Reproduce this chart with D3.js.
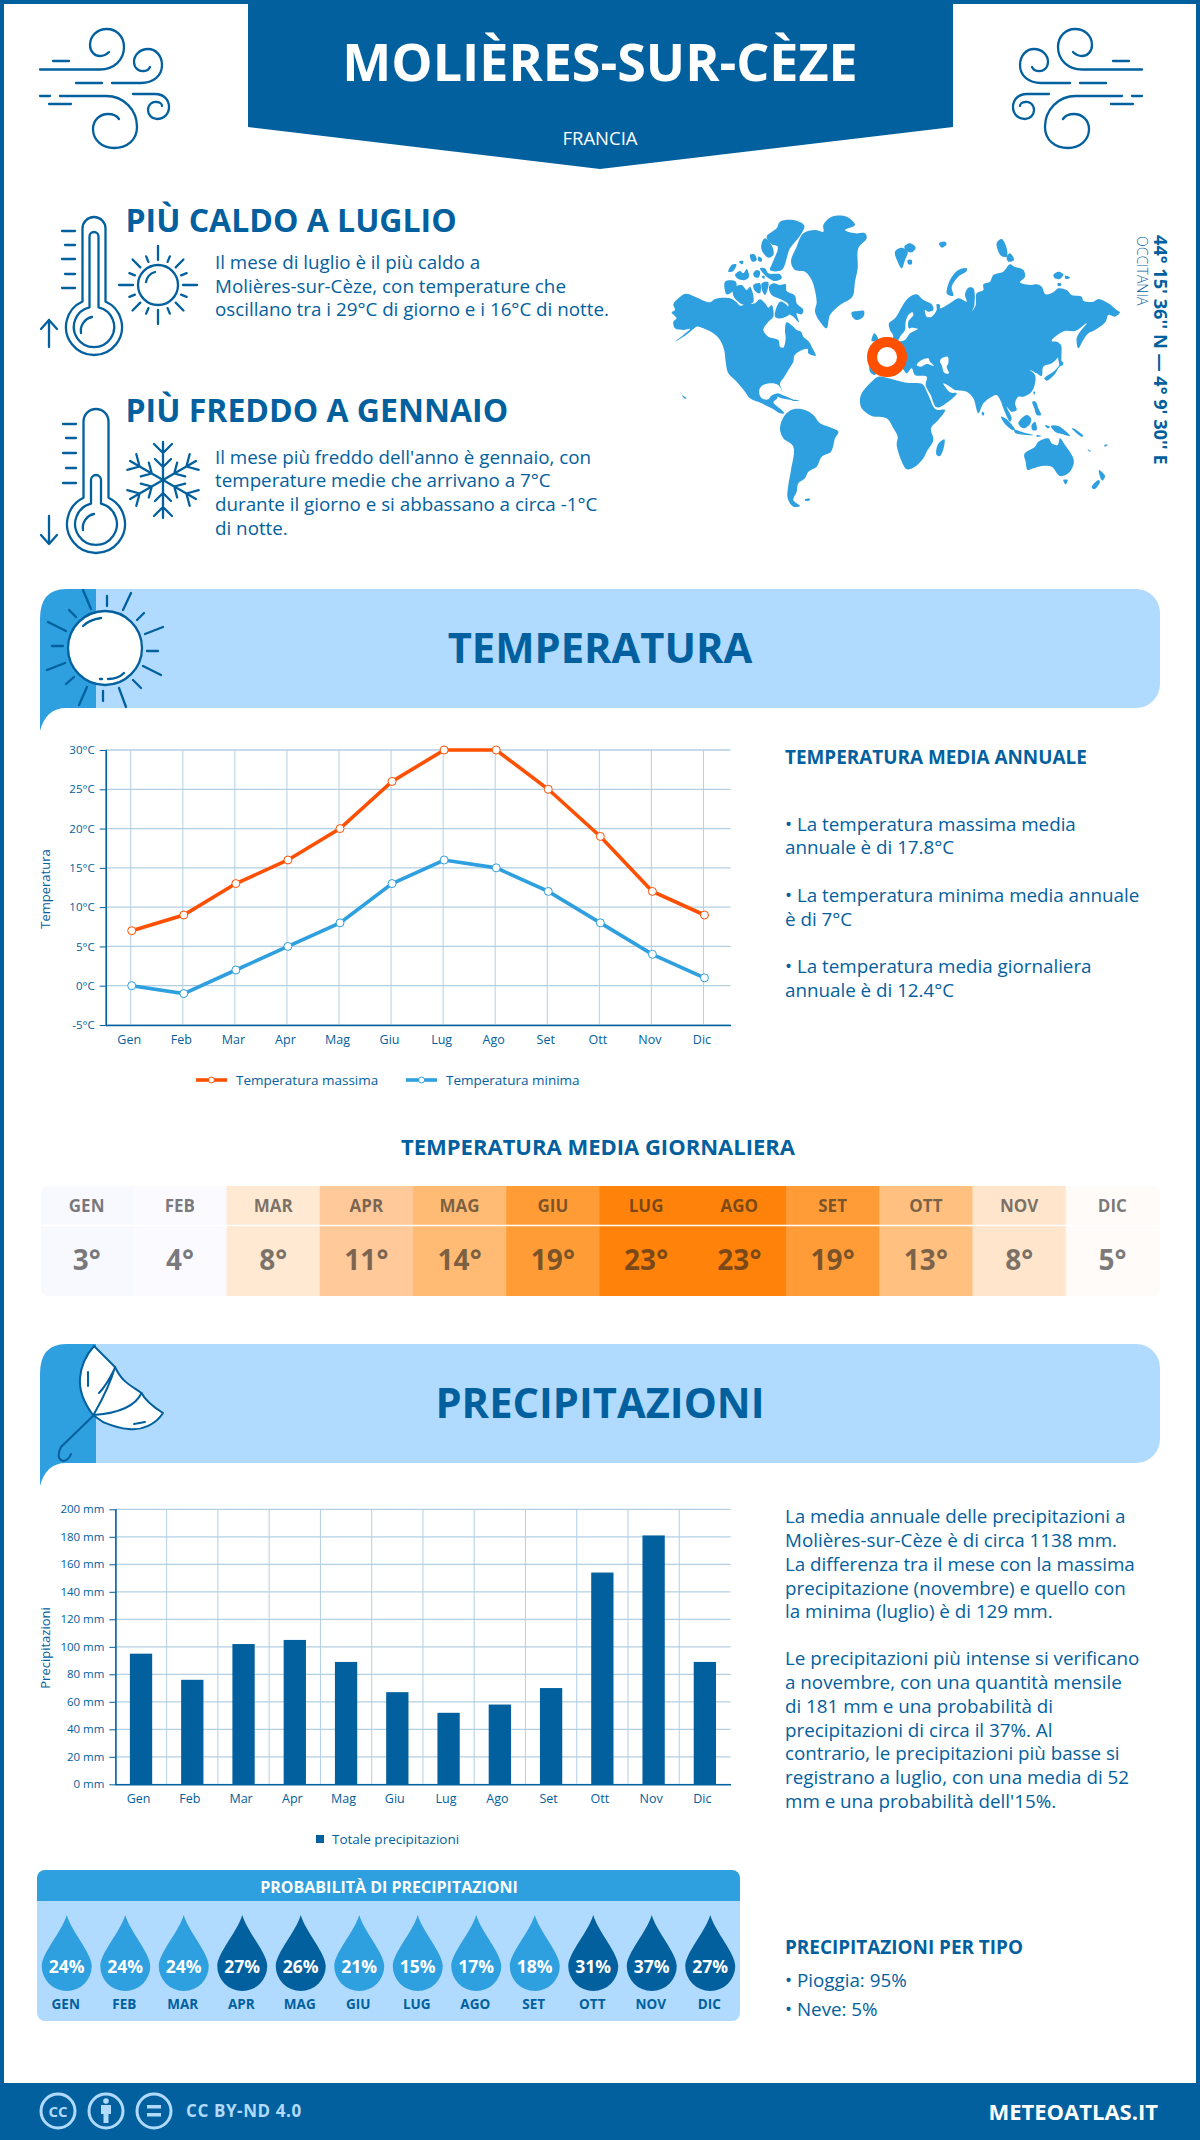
<!DOCTYPE html>
<html>
<head>
<meta charset="utf-8">
<script src="https://cdn.jsdelivr.net/npm/d3@7"></script>
<style>
  html, body { margin: 0; padding: 0; background: #fff; }
  svg { display: block; font-family: "Open Sans", sans-serif; }
  .icon { fill: none; stroke: #02609e; stroke-width: 2.3; stroke-linecap: round; stroke-linejoin: round; }
  .domain { stroke: #02609e; stroke-width: 1.6; }
  .tick line { stroke: #02609e; }
  .tick text { fill: #02609e; }
</style>
</head>
<body>
<div id="chart"></div>
<script>
// chart values
const months      = ['Gen', 'Feb', 'Mar', 'Apr', 'Mag', 'Giu', 'Lug', 'Ago', 'Set', 'Ott', 'Nov', 'Dic'];
const monthsUpper = ['GEN', 'FEB', 'MAR', 'APR', 'MAG', 'GIU', 'LUG', 'AGO', 'SET', 'OTT', 'NOV', 'DIC'];
const tempMax     = [7, 9, 13, 16, 20, 26, 30, 30, 25, 19, 12, 9];
const tempMin     = [0, -1, 2, 5, 8, 13, 16, 15, 12, 8, 4, 1];
const tempDaily   = [3, 4, 8, 11, 14, 19, 23, 23, 19, 13, 8, 5];
const heatColors  = ['#f8f8ff', '#fbfaff', '#ffe9d3', '#ffc999', '#ffbb73', '#ff9c35',
                     '#ff830b', '#ff830b', '#ff9c38', '#ffc080', '#ffe5cb', '#fffbf8'];
const precip      = [95, 76, 102, 105, 89, 67, 52, 58, 70, 154, 181, 89];
const rainProb    = [24, 24, 24, 27, 26, 21, 15, 17, 18, 31, 37, 27];
const tempTicks   = [-5, 0, 5, 10, 15, 20, 25, 30];
const precipTicks = [0, 20, 40, 60, 80, 100, 120, 140, 160, 180, 200];

const DARK = '#02609e', MID = '#2e9fdf', LIGHT = '#b0dbff', ORANGE = '#ff4f00';

// world map outline (3x crop coordinates, see mapLayer below)
const mapWest = [
  '20,322 30,315 25,298 40,280 62,266 90,275 135,292 150,282 195,280 215,292 225,302 245,298 270,295 285,283 300,295 310,308 320,300 325,335 310,350 295,375 310,395 340,405 345,425 355,428 362,400 360,375 365,352 385,365 395,375 408,380 415,395 432,410 440,425 452,452 430,445 428,432 405,438 388,452 385,470 370,495 355,520 345,535 352,560 340,540 315,535 290,543 282,560 290,580 310,583 318,573 335,567 337,580 325,592 350,615 358,625 345,625 320,610 290,595 255,580 240,560 215,530 190,505 182,470 178,437 165,405 145,385 115,370 95,365 85,372 60,392 30,410 55,390 75,372 55,375 30,370 25,350 35,340',
  '345,670 360,630 385,613 420,615 445,630 465,655 495,667 520,680 510,700 498,740 470,755 455,785 430,800 420,820 400,835 395,860 385,885 405,903 385,905 368,880 370,840 378,795 385,725 355,700',
  '420,883 435,881 432,887 421,887',
  '335,565 360,573 385,585 365,583 335,573', '375,583 402,587 385,588', '50,570 65,580 60,581',
  '378,170 395,125 415,85 450,75 475,80 475,60 500,35 545,35 570,60 540,75 570,85 600,85 605,100 580,130 578,190 570,230 562,275 525,300 495,330 485,370 465,350 450,320 455,290 440,225 420,200 390,195',
  '305,95 335,70 345,50 385,45 418,62 405,92 375,130 350,195 315,195 322,175 338,125 320,118',
  '290,115 300,100 322,125 325,150 310,158 290,135',
  '190,200 200,180 214,178 205,198', '210,210 225,198 235,205 245,192 252,215 240,225 220,222',
  '265,205 275,195 285,200 280,218 268,215', '285,190 300,190 310,205 345,208 350,220 330,228 305,215',
  '255,150 268,148 275,165 262,170', '222,170 235,168 232,178', '280,155 290,160 290,170 280,168', '290,215 298,212 298,222',
  '180,230 210,228 215,240 200,262 185,268', '205,250 230,240 245,255 255,245 265,290 240,300 220,290 205,272',
  '265,240 285,235 285,265 270,258', '290,235 310,232 300,270 292,258',
  '312,245 325,235 345,240 362,238 365,258 390,272 395,295 415,315 410,328 395,325 402,352 385,335 365,320 370,298 345,282 320,270',
  '345,290 365,300 375,325 350,340 330,335',
  '560,322 580,318 597,318 595,335 575,345 562,335'
];
const mapEast = [
  // Eurasia
  '30,290 45,275 65,268 85,285 110,298 115,315 100,320 90,315 95,335 110,335 125,315 125,298 135,300 135,310 165,295 190,280 215,290 210,270 220,248 235,250 238,300 232,318 242,300 245,265 265,255 265,238 285,230 295,210 325,200 345,178 358,185 385,195 390,215 375,232 405,240 425,238 440,245 452,268 475,262 490,250 515,255 530,270 560,275 565,287 595,290 610,282 640,295 665,315 675,322 660,335 640,330 632,350 600,375 580,385 565,405 550,430 545,400 555,380 575,355 560,365 540,378 510,378 490,388 470,408 490,412 495,440 490,455 470,475 445,485 440,513 425,505 405,495 420,510 420,535 410,560 385,575 370,575 360,595 365,615 350,620 335,605 350,640 345,650 325,610 318,590 305,570 290,575 265,595 250,625 235,580 215,560 180,555 165,545 145,535 165,562 185,565 160,590 125,607 107,570 92,540 95,515 60,510 50,490 35,505 20,490 0,500 -45,490 -60,510 -75,500 -75,470 -60,440 -30,410 -5,395 -15,375 -18,355 0,340',
  // Africa, Madagascar
  '-100,565 -75,535 -50,515 0,525 35,533 75,535 85,540 100,570 122,613 150,615 130,645 108,670 115,705 95,740 85,760 60,785 35,793 25,780 5,720 8,695 -5,670 -25,640 -70,633 -100,610 -105,585',
  '148,703 148,720 135,753 125,750 128,720',
  // Arctic islands
  '155,265 165,225 190,195 215,190 215,198 190,215 170,245 175,272 160,270',
  '0,140 20,128 38,140 30,165 20,190 8,170', '28,125 45,115 62,128 50,142 35,138', '38,165 50,165 50,178 40,178',
  '132,115 150,110 155,118 140,128', '305,115 320,102 335,130 335,155 318,152', '335,155 345,145 357,165 340,170',
  '475,210 490,200 505,208 495,222 480,220', '510,212 525,218 512,222', '488,235 498,235 498,242 488,242',
  '-62,385 -50,405 -70,408',
  // Japan, Sakhalin
  '498,470 505,473 490,490 480,507 455,527 448,520 475,500 490,485', '490,415 498,420 500,470 505,480 495,480',
  // South-east Asia and Oceania
  '262,620 268,625 265,632 260,627', '318,635 335,643 360,675 352,675 330,657', '358,675 395,685 415,690 395,690 360,683',
  '370,655 395,630 408,640 405,657 385,670', '410,660 420,650 425,675 412,675', '412,590 422,590 430,610 438,630 425,630 418,610',
  '415,560 420,560 418,570', '468,663 490,663 525,693 500,687 480,680', '425,690 440,693 425,695', '450,660 465,665 458,670',
  '530,670 535,670 565,693 560,695 540,680', '578,733 588,739 582,739', '628,720 638,719 630,725',
  '388,747 420,725 430,710 460,700 470,715 488,720 495,700 510,720 535,760 535,780 520,805 495,813 470,785 440,783 415,790 398,795 392,770',
  '505,825 518,825 512,838', '612,795 630,813 622,827 615,815', '590,847 610,825 615,830 598,853'
];
// enclosed seas, painted white over the land
const mapSeas = [
  '52,322 40,330 32,350 30,375 15,395 10,408 30,405 45,385 68,372 50,368 42,370 40,350 55,330',
  '65,480 80,465 100,460 105,470 117,483 95,477 78,485',
  '140,460 158,455 160,475 155,485 162,505 148,503 140,480 135,470'
];

const svg = d3.select('#chart').append('svg')
    .attr('width', 1200)
    .attr('height', 2140);

function text(parent, x, y, str, size, opts) {
    opts = opts || {};
    return parent.append('text')
        .attr('x', x)
        .attr('y', y)
        .attr('font-size', size)
        .attr('font-weight', opts.weight || 400)
        .attr('fill', opts.fill || DARK)
        .attr('text-anchor', opts.anchor || 'start')
        .attr('letter-spacing', opts.spacing || null)
        .text(str);
}

// frame and title ribbon
svg.append('rect').attr('width', 1200).attr('height', 2140).attr('fill', '#fff');
svg.append('rect').attr('x', 2).attr('y', 2).attr('width', 1196).attr('height', 2136)
    .attr('fill', 'none').attr('stroke', DARK).attr('stroke-width', 4);
svg.append('path').attr('d', 'M248,0H953V127L600,169L248,127Z').attr('fill', DARK);
text(svg, 600, 81, 'MOLIÈRES-SUR-CÈZE', 52, { weight: 700, fill: '#fff', anchor: 'middle' });
text(svg, 600, 145, 'FRANCIA', 18.5, { fill: '#fff', anchor: 'middle' });

// wind icons, the right one mirrored
const windPath =
    'M53,61H69 M40,69.5H100C114,69.5 124,60 124,47C124,36 116,29 107,29C97,29 90,36 90,45C90,52 95,56 100,56C104,56 107,54 109,52 ' +
    'M76,83H102 M112,83H141C153,83 162,76 162,65C162,56 156,49 148,49C140,49 134,55 134,62C134,68 139,72 144,71C147,71 149,69 150,67 ' +
    'M40,96H50 M60,96H106C124,96 137,110 137,127C137,140 127,148 114,148C102,148 93,140 93,129C93,120 100,114 108,114C113,114 117,116 119,119 ' +
    'M49,104H71 M133,94H155C164,94 169,100 169,107C169,114 164,119 157,119C152,119 148,115 148,110C148,105 152,101 157,102C160,102 162,104 162,106';
svg.append('path').attr('class', 'icon').attr('d', windPath);
svg.append('path').attr('class', 'icon').attr('d', windPath).attr('transform', 'translate(1182,0) scale(-1,1)');

// thermometers
function thermometer(g, x, top, cy, r, hw, innerTop, innerHw, tickYs, tickX) {
    const a = Math.asin(hw / r);
    const yJoin = cy - r * Math.cos(a);
    g.append('path').attr('class', 'icon')
        .attr('d', `M${x - hw},${yJoin}V${top + hw}A${hw},${hw} 0 0 1 ${x + hw},${top + hw}V${yJoin}A${r},${r} 0 1 1 ${x - hw},${yJoin}Z`);
    const r2 = r * 0.72;
    const a2 = Math.asin(innerHw / r2);
    const yJoin2 = cy - r2 * Math.cos(a2);
    g.append('path').attr('class', 'icon')
        .attr('d', `M${x - innerHw},${yJoin2}V${innerTop + innerHw}A${innerHw},${innerHw} 0 0 1 ${x + innerHw},${innerTop + innerHw}V${yJoin2}A${r2},${r2} 0 1 1 ${x - innerHw},${yJoin2}Z`);
    g.append('path').attr('class', 'icon')
        .attr('d', `M${x - 13},${cy + 6}A14,14 0 0 1 ${x - 2},${cy - 10}`);
    tickYs.forEach((y, i) => {
        g.append('line').attr('class', 'icon')
            .attr('x1', i % 2 ? tickX + 3 : tickX).attr('x2', tickX + 13).attr('y1', y).attr('y2', y);
    });
}
thermometer(svg, 94, 217, 327, 28, 11.5, 232, 4.5, [231, 245, 259, 274, 288], 62);
thermometer(svg, 96, 409, 524, 29, 12.5, 475, 5, [424, 438, 453, 468, 483], 63);
svg.append('path').attr('class', 'icon').attr('d', 'M49,347V320M41,329L49,320L57,329');
svg.append('path').attr('class', 'icon').attr('d', 'M49,516V544M41,535L49,544L57,535');

// small sun next to the first thermometer
const smallSun = svg.append('g').attr('transform', 'translate(158,285)');
smallSun.append('circle').attr('class', 'icon').attr('r', 20);
smallSun.append('path').attr('class', 'icon').attr('d', 'M-12,-3A13,13 0 0 1 -3,-13');
d3.range(16).forEach(i => {
    smallSun.append('line').attr('class', 'icon')
        .attr('y1', -25).attr('y2', i % 2 ? -31 : (i % 4 ? -36 : -39))
        .attr('transform', `rotate(${i * 22.5})`);
});

// snowflake
const flake = svg.append('g').attr('transform', 'translate(163,480)');
d3.range(6).forEach(i => {
    const arm = flake.append('g').attr('transform', `rotate(${i * 60})`);
    arm.append('path').attr('class', 'icon')
        .attr('d', 'M0,0V-38 M-9,-36L0,-27L9,-36 M-8,-21L0,-13L8,-21');
});

// headline blocks
text(svg, 125.5, 232, 'PIÙ CALDO A LUGLIO', 32, { weight: 700 });
text(svg, 125.5, 422, 'PIÙ FREDDO A GENNAIO', 32, { weight: 700 });
[['Il mese di luglio è il più caldo a', 269],
 ['Molières-sur-Cèze, con temperature che', 292.5],
 ['oscillano tra i 29°C di giorno e i 16°C di notte.', 316],
 ['Il mese più freddo dell\'anno è gennaio, con', 463.5],
 ['temperature medie che arrivano a 7°C', 487],
 ['durante il giorno e si abbassano a circa -1°C', 510.5],
 ['di notte.', 534.5]].forEach(d => text(svg, 215, d[1], d[0], 18.8));

// world map
const mapLine = d3.line().curve(d3.curveCatmullRomClosed.alpha(0.5));
const parsePoly = s => s.split(' ').map(p => p.split(',').map(Number));
function mapLayer(x, polys, fill) {
    svg.append('g')
        .attr('transform', `translate(${x},205) scale(${1 / 3})`)
        .selectAll('path')
        .data(polys)
        .enter()
        .append('path')
        .attr('d', d => mapLine(parsePoly(d)))
        .attr('fill', fill);
}
mapLayer(665, mapWest, MID);
mapLayer(895, mapEast, MID);
mapLayer(895, mapSeas, '#fff');
svg.append('circle').attr('cx', 887).attr('cy', 357).attr('r', 15)
    .attr('fill', '#fff').attr('stroke', ORANGE).attr('stroke-width', 10);

text(svg, 0, 0, 'OCCITANIA', 14).attr('font-weight', 300).attr('transform', 'translate(1137,236) rotate(90)');
text(svg, 0, 0, '44° 15\' 36\'\' N — 4° 9\' 30\'\' E', 18.2, { weight: 700 }).attr('transform', 'translate(1154,235) rotate(90)');

// section banners
function banner(y0, title) {
    const y1 = y0 + 119;
    svg.append('path').attr('fill', LIGHT)
        .attr('d', `M96,${y0}H1136A24,24 0 0 1 1160,${y0 + 24}V${y1 - 24}A24,24 0 0 1 1136,${y1}H96Z`);
    svg.append('path').attr('fill', MID)
        .attr('d', `M96,${y0}H66Q40,${y0} 40,${y0 + 30}V${y1 + 23}Q46,${y1} 66,${y1}H96Z`);
    text(svg, 600, y0 + 74, title, 41.7, { weight: 700, anchor: 'middle' });
}
banner(589, 'TEMPERATURA');
banner(1344, 'PRECIPITAZIONI');

// sun icon of the temperature banner
const sunRays = [[83, 590, 91, 609], [107, 596, 107, 606], [131, 593, 123, 610], [144, 613, 137, 620],
                 [163, 627, 145, 634], [147, 651, 158, 651], [143, 666, 161, 675], [133, 680, 141, 688],
                 [119, 688, 126, 707], [103, 691, 103, 701], [87, 687, 79, 705], [74, 677, 66, 684],
                 [65, 663, 47, 670], [63, 646, 52, 646], [66, 631, 48, 622], [76, 617, 69, 610]];
svg.append('g').selectAll('line').data(sunRays).enter().append('line').attr('class', 'icon')
    .attr('x1', d => d[0]).attr('y1', d => d[1]).attr('x2', d => d[2]).attr('y2', d => d[3]);
svg.append('circle').attr('class', 'icon').attr('cx', 105).attr('cy', 648).attr('r', 37).style('fill', '#fff');
svg.append('path').attr('class', 'icon').attr('d', 'M83,626C88,621 94,619 101,618 M108,679C114,679 120,677 124,673 M100,679H102');

// umbrella icon of the precipitation banner
svg.append('path').attr('class', 'icon').style('fill', '#fff').style('stroke-width', 2)
    .attr('d', 'M94,1346L115,1367C122,1382 130,1385 141.5,1393C146,1402 155,1408 163,1413C156,1424 142,1431 128.5,1429C117,1428 108,1424 103,1422L93,1415C84,1403 79,1390 80,1378C81,1366 87,1354 94,1346Z');
svg.append('path').attr('class', 'icon').style('stroke-width', 2)
    .attr('d', 'M115,1367C110,1385 102,1400 94,1414 M141.5,1393C136,1405 120,1413 94,1415 M94,1415L61,1447C58,1453 57,1459 63,1461C67,1461 70,1457 71,1454 M88,1372V1386 M114,1370C110,1378 104,1388 99,1393 M145,1422L134,1424');

// temperature chart
const tempChart = { left: 105.7, right: 730.5, top: 750, bottom: 1025 };
const tempX = d3.scaleBand().domain(months).range([tempChart.left, tempChart.right]);
const tempY = d3.scaleLinear().domain([-5, 30]).range([tempChart.bottom, tempChart.top]);
const GRID = '#b3cfe3';

const tempG = svg.append('g');
tempG.append('g').selectAll('line').data(tempTicks).enter().append('line')
    .attr('x1', tempChart.left).attr('x2', tempChart.right)
    .attr('y1', d => tempY(d)).attr('y2', d => tempY(d))
    .attr('stroke', GRID).attr('stroke-width', 1.3);
tempG.append('g').selectAll('line').data(months).enter().append('line')
    .attr('x1', d => tempX(d) + tempX.bandwidth() / 2 - 1).attr('x2', d => tempX(d) + tempX.bandwidth() / 2 - 1)
    .attr('y1', tempChart.top).attr('y2', tempChart.bottom)
    .attr('stroke', GRID).attr('stroke-width', 1);

const tempAxisY = tempG.append('g').attr('transform', `translate(${tempChart.left},0)`)
    .call(d3.axisLeft(tempY).tickValues(tempTicks).tickFormat(d => d + '°C').tickSize(6).tickPadding(5));
const tempAxisX = tempG.append('g').attr('transform', `translate(0,${tempChart.bottom})`)
    .call(d3.axisBottom(tempX).tickSize(0).tickPadding(10));

function styleAxis(axisY, axisX) {
    axisY.selectAll('text').attr('font-size', 11.5).attr('font-family', '"Open Sans"');
    axisX.selectAll('text').attr('font-size', 12.5).attr('font-family', '"Open Sans"').attr('dx', -2.5);
    axisY.select('.domain').attr('d', axisY.select('.domain').attr('d').replace(/^M-6/, 'M0').replace(/H-6/, 'H0'));
}
styleAxis(tempAxisY, tempAxisX);

const tempLine = d3.line()
    .x((d, i) => tempX(months[i]) + tempX.bandwidth() / 2)
    .y(d => tempY(d));

[[tempMax, ORANGE], [tempMin, MID]].forEach(s => {
    tempG.append('path').attr('d', tempLine(s[0]))
        .attr('fill', 'none').attr('stroke', s[1]).attr('stroke-width', 3.6);
    tempG.append('g').selectAll('circle').data(s[0]).enter().append('circle')
        .attr('cx', (d, i) => tempX(months[i]) + tempX.bandwidth() / 2)
        .attr('cy', d => tempY(d))
        .attr('r', 4)
        .attr('fill', '#fff').attr('stroke', s[1]).attr('stroke-width', 1);
});

text(tempG, 0, 0, 'Temperatura', 13, { anchor: 'middle' }).attr('transform', 'translate(50,889) rotate(-90)');

// legend of the temperature chart
[[196, ORANGE, 'Temperatura massima', 236], [406, MID, 'Temperatura minima', 446]].forEach(d => {
    svg.append('line').attr('x1', d[0]).attr('x2', d[0] + 31).attr('y1', 1080).attr('y2', 1080)
        .attr('stroke', d[1]).attr('stroke-width', 3.6);
    svg.append('circle').attr('cx', d[0] + 15.5).attr('cy', 1080).attr('r', 3)
        .attr('fill', '#fff').attr('stroke', d[1]);
    text(svg, d[3], 1085, d[2], 13.5);
});

// annual summary beside the chart
text(svg, 785, 764, 'TEMPERATURA MEDIA ANNUALE', 18.9, { weight: 700 });
[['• La temperatura massima media', 831], ['annuale è di 17.8°C', 854],
 ['• La temperatura minima media annuale', 902], ['è di 7°C', 926],
 ['• La temperatura media giornaliera', 973], ['annuale è di 12.4°C', 997]]
    .forEach(d => text(svg, 785, d[1], d[0], 18.8));

// daily mean heat strip
text(svg, 598, 1155, 'TEMPERATURA MEDIA GIORNALIERA', 22, { weight: 700, anchor: 'middle' });
const heatX = d3.scaleBand().domain(months).range([40, 1159]);
const heatClip = svg.append('clipPath').attr('id', 'heat-clip');
heatClip.append('rect').attr('x', 41).attr('y', 1186).attr('width', 1119).attr('height', 110).attr('rx', 7);
const heat = svg.append('g').attr('clip-path', 'url(#heat-clip)');
heat.selectAll('rect').data(months).enter().append('rect')
    .attr('x', d => heatX(d))
    .attr('y', 1186)
    .attr('width', heatX.bandwidth() + 1.5)
    .attr('height', 110)
    .attr('fill', (d, i) => heatColors[i]);
heat.append('line').attr('x1', 41).attr('x2', 1160).attr('y1', 1225.5).attr('y2', 1225.5)
    .attr('stroke', '#fff').attr('stroke-width', 1.5);
months.forEach((m, i) => {
    const cx = heatX(m) + heatX.bandwidth() / 2;
    text(heat, cx, 1212, monthsUpper[i], 17, { weight: 700, anchor: 'middle', fill: '#222' }).attr('fill-opacity', 0.6);
    text(heat, cx, 1270, tempDaily[i] + '°', 28, { weight: 700, anchor: 'middle', fill: '#222' }).attr('fill-opacity', 0.6);
});

// precipitation chart
const precipChart = { left: 115.4, right: 730.5, top: 1509.3, bottom: 1784.3 };
const precipX = d3.scaleBand().domain(months).range([precipChart.left, precipChart.right])
    .paddingInner(0.565).paddingOuter(0.2825);
const precipY = d3.scaleLinear().domain([0, 200]).range([precipChart.bottom, precipChart.top]);

const precipG = svg.append('g');
precipG.append('g').selectAll('line').data(precipTicks).enter().append('line')
    .attr('x1', precipChart.left).attr('x2', precipChart.right)
    .attr('y1', d => precipY(d)).attr('y2', d => precipY(d))
    .attr('stroke', GRID).attr('stroke-width', 1.3);
precipG.append('g').selectAll('line').data(months.slice(1)).enter().append('line')
    .attr('x1', d => precipX(d) - (precipX.step() - precipX.bandwidth()) / 2)
    .attr('x2', d => precipX(d) - (precipX.step() - precipX.bandwidth()) / 2)
    .attr('y1', precipChart.top).attr('y2', precipChart.bottom)
    .attr('stroke', GRID).attr('stroke-width', 1);
precipG.append('g').selectAll('rect').data(precip).enter().append('rect')
    .attr('x', (d, i) => precipX(months[i]))
    .attr('y', d => precipY(d))
    .attr('width', precipX.bandwidth())
    .attr('height', d => precipChart.bottom - precipY(d))
    .attr('fill', DARK);

const precipAxisY = precipG.append('g').attr('transform', `translate(${precipChart.left},0)`)
    .call(d3.axisLeft(precipY).tickValues(precipTicks).tickFormat(d => d + ' mm').tickSize(6).tickPadding(5));
const precipAxisX = precipG.append('g').attr('transform', `translate(0,${precipChart.bottom})`)
    .call(d3.axisBottom(precipX).tickSize(0).tickPadding(10));
styleAxis(precipAxisY, precipAxisX);

text(precipG, 0, 0, 'Precipitazioni', 13, { anchor: 'middle' }).attr('transform', 'translate(50,1648) rotate(-90)');
svg.append('rect').attr('x', 316).attr('y', 1835).attr('width', 8).attr('height', 8).attr('fill', DARK);
text(svg, 332, 1844, 'Totale precipitazioni', 13.5);

// text beside the precipitation chart
[['La media annuale delle precipitazioni a', 1523], ['Molières-sur-Cèze è di circa 1138 mm.', 1546.5],
 ['La differenza tra il mese con la massima', 1570.5], ['precipitazione (novembre) e quello con', 1594.5],
 ['la minima (luglio) è di 129 mm.', 1618], ['Le precipitazioni più intense si verificano', 1665],
 ['a novembre, con una quantità mensile', 1689], ['di 181 mm e una probabilità di', 1713],
 ['precipitazioni di circa il 37%. Al', 1736.5], ['contrario, le precipitazioni più basse si', 1760],
 ['registrano a luglio, con una media di 52', 1784], ['mm e una probabilità dell\'15%.', 1808],
 ['• Pioggia: 95%', 1987], ['• Neve: 5%', 2016]]
    .forEach(d => text(svg, 785, d[1], d[0], 18.8));
text(svg, 785, 1954, 'PRECIPITAZIONI PER TIPO', 18.9, { weight: 700 });

// rain probability panel
svg.append('path').attr('fill', LIGHT).attr('d', 'M37,1901H740V2013A8,8 0 0 1 732,2021H45A8,8 0 0 1 37,2013Z');
svg.append('path').attr('fill', MID).attr('d', 'M37,1901V1878A8,8 0 0 1 45,1870H732A8,8 0 0 1 740,1878V1901Z');
text(svg, 389, 1893, 'PROBABILITÀ DI PRECIPITAZIONI', 16, { weight: 700, fill: '#fff', anchor: 'middle' });

const dropX = d3.scaleBand().domain(months).range([37.5, 739.5]);
const drops = svg.append('g').selectAll('g').data(rainProb).enter().append('g')
    .attr('transform', (d, i) => `translate(${dropX(months[i]) + dropX.bandwidth() / 2},0)`);
drops.append('path')
    .attr('d', 'M0,1915C5,1932 25,1953 25,1966A25,25 0 0 1 -25,1966C-25,1953 -5,1932 0,1915Z')
    .attr('fill', d => d >= 26 ? DARK : MID);
drops.append('text')
    .attr('y', 1973).attr('text-anchor', 'middle').attr('font-size', 17.5).attr('font-weight', 700).attr('fill', '#fff')
    .text(d => d + '%');
drops.append('text')
    .attr('x', -1).attr('y', 2009).attr('text-anchor', 'middle').attr('font-size', 13.5).attr('font-weight', 700).attr('fill', DARK)
    .text((d, i) => monthsUpper[i]);

// footer
svg.append('rect').attr('x', 0).attr('y', 2083).attr('width', 1200).attr('height', 57).attr('fill', DARK);
[58, 106, 154].forEach(cx => {
    svg.append('circle').attr('cx', cx).attr('cy', 2111).attr('r', 17)
        .attr('fill', 'none').attr('stroke', LIGHT).attr('stroke-width', 3);
});
text(svg, 58, 2116.5, 'CC', 15, { weight: 700, fill: LIGHT, anchor: 'middle' });
svg.append('circle').attr('cx', 106).attr('cy', 2101).attr('r', 2.8).attr('fill', LIGHT);
svg.append('path').attr('fill', LIGHT).attr('d', 'M101,2105H111V2114H108.5V2123H103.5V2114H101Z');
svg.append('path').attr('fill', LIGHT).attr('d', 'M147,2105H161V2108.500H147Z M147,2113H161V2116.500H147Z');
text(svg, 186, 2117, 'CC BY-ND 4.0', 17, { weight: 700, fill: LIGHT, spacing: 0.6 });
text(svg, 1158, 2120, 'METEOATLAS.IT', 22, { weight: 700, fill: '#fff', anchor: 'end' });
</script>
</body>
</html>
